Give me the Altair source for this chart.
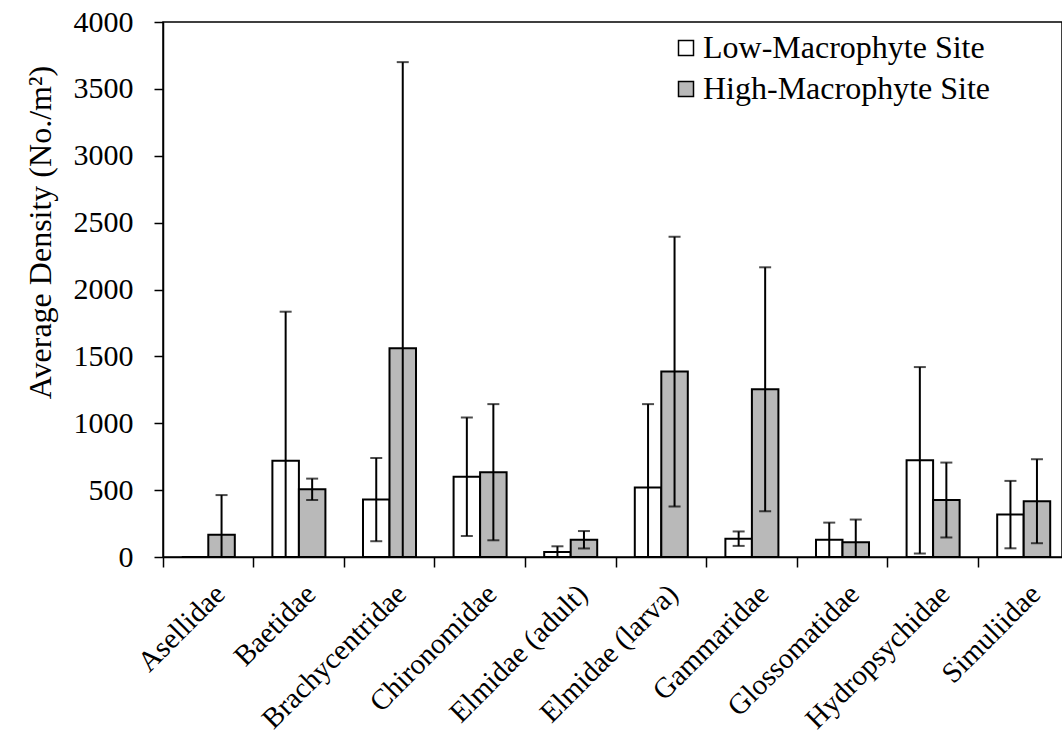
import altair as alt
import pandas as pd

taxa = ["Asellidae", "Baetidae", "Brachycentridae", "Chironomidae", "Elmidae (adult)",
        "Elmidae (larva)", "Gammaridae", "Glossomatidae", "Hydropsychidae", "Simuliidae"]
sites = ["Low-Macrophyte Site", "High-Macrophyte Site"]
low_mean = [0, 720, 429, 600, 37, 520, 137, 129, 723, 317]
low_err = [0, 1114, 311, 443, 43, 623, 54, 128, 697, 252]
high_mean = [166, 506, 1560, 634, 129, 1386, 1254, 111, 426, 417]
high_err = [297, 80, 2140, 509, 65, 1008, 912, 169, 280, 314]

rows = []
for i, t in enumerate(taxa):
    rows.append(dict(taxon=t, site=sites[0], mean=low_mean[i], err=low_err[i]))
    rows.append(dict(taxon=t, site=sites[1], mean=high_mean[i], err=high_err[i]))
df = pd.DataFrame(rows)

FONT = "Liberation Serif"

x_enc = alt.X(
    "taxon:N", sort=taxa,
    scale=alt.Scale(range=[0, 906], paddingInner=0, paddingOuter=0),
    axis=alt.Axis(title=None, bandPosition=0, labelAngle=-45, labelAlign="right",
                  labelBaseline="middle", labelOffset=12, labelPadding=22, labelLimit=0,
                  tickSize=10, labelFontSize=29, labelFont=FONT, labelColor="black",
                  domainColor="black", tickColor="black", domainWidth=1.5, tickWidth=1.5),
)
xo_enc = alt.XOffset("site:N", sort=sites, scale=alt.Scale(paddingOuter=0.709, paddingInner=0))
y_scale = alt.Scale(domain=[0, 4000], nice=False)
y_axis = alt.Axis(title="Average Density (No./m²)", values=list(range(0, 4001, 500)),
                  format="d", tickSize=9, labelPadding=21, labelFontSize=30, labelFont=FONT,
                  labelColor="black", titleFont=FONT, titleFontSize=32, titleFontWeight="normal",
                  titleColor="black", titleAngle=-90, titleAlign="center", titleBaseline="middle",
                  titleX=-123, titleY=210, domainColor="black", tickColor="black",
                  domainWidth=1.5, tickWidth=1.5, grid=False)

base = alt.Chart(df)

bars = base.mark_bar(stroke="black", strokeWidth=2).encode(
    x=x_enc,
    xOffset=xo_enc,
    y=alt.Y("mean:Q", scale=y_scale, axis=y_axis),
    fill=alt.Fill("site:N", sort=sites,
                  scale=alt.Scale(domain=sites, range=["white", "#b9b9b9"]),
                  legend=alt.Legend(orient="none", legendX=507, legendY=10, title=None,
                                    symbolType="square", symbolSize=225,
                                    symbolStrokeColor="black", symbolStrokeWidth=1.5,
                                    labelFontSize=32, labelFont=FONT, labelColor="black",
                                    labelLimit=0, rowPadding=9, padding=0, labelOffset=1)),
)

err = base.transform_filter("datum.err > 0").transform_calculate(
    hi="datum.mean + datum.err", lo="max(datum.mean - datum.err, 0)"
)

rules = err.mark_rule(color="black", strokeWidth=2).encode(
    x=x_enc, xOffset=xo_enc, y=alt.Y("lo:Q", scale=y_scale), y2="hi:Q"
)
top_caps = err.mark_tick(color="black", size=12, thickness=2).encode(
    x=x_enc, xOffset=xo_enc, y=alt.Y("hi:Q", scale=y_scale)
)
bot_caps = err.transform_filter("datum.mean - datum.err > 10").mark_tick(
    color="black", size=12, thickness=2).encode(
    x=x_enc, xOffset=xo_enc, y=alt.Y("lo:Q", scale=y_scale)
)

chart = alt.layer(bars, rules, top_caps, bot_caps).properties(
    width=899, height=535,
    autosize=alt.AutoSizeParams(type="none"),
    padding={"left": 163, "top": 22, "right": 0, "bottom": 186},
    background="white",
).configure_view(stroke="black", strokeWidth=1.5)

chart.save("out.html", embed_options={"renderer": "svg", "actions": False})
